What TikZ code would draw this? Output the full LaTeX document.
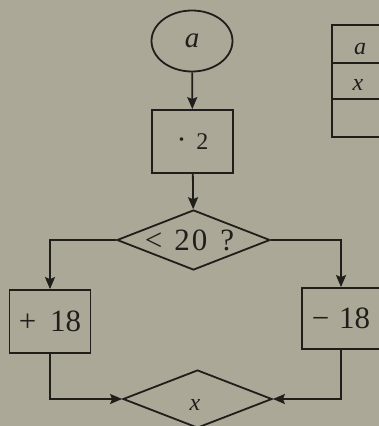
\documentclass[tikz,border=0pt]{standalone}
\usepackage{fontspec}
\setmainfont{Liberation Serif}
\usetikzlibrary{shapes.geometric,arrows.meta}
\definecolor{bg}{RGB}{172,168,152}
\definecolor{ink}{RGB}{32,30,27}
\tikzset{
  every node/.style={text=ink},
  big/.style={font=\fontsize{31}{35}\selectfont},
  blk/.style={draw=ink, line width=1.8pt, rectangle, inner sep=0pt},
  dec/.style={draw=ink, line width=1.8pt, diamond, inner sep=0pt, aspect=2.5},
  term/.style={draw=ink, line width=1.8pt, ellipse, inner sep=0pt},
  flow/.style={draw=ink, line width=1.8pt, -{Stealth[length=12pt,width=10pt,inset=2pt]}},
  tab/.style={draw=ink, line width=1.8pt}
}
\begin{document}
\begin{tikzpicture}[x=1pt,y=-1pt]
\useasboundingbox[fill=bg] (0,0) rectangle (379,426);
\node[term, minimum width=81pt, minimum height=61pt, font=\fontsize{29}{33}\selectfont\itshape] (a) at (192,41) {a};
\node[blk, minimum width=81pt, minimum height=63pt, font=\fontsize{24}{28}\selectfont] (m2) at (192.5,141.5) {{\fontsize{30}{30}\selectfont ·}\hspace{10pt}2};
\node[dec, big, minimum width=153pt, minimum height=60pt] (c) at (193.5,240) {\makebox[0pt]{\hspace{-8pt}<\hspace{12pt}2\hspace{2pt}0\hspace{13pt}?}};
\node[blk, big, minimum width=81pt, minimum height=63pt] (p18) at (50,321.5) {+\hspace{14pt}18};
\node[blk, big, minimum width=78pt, minimum height=61pt] (m18) at (341,318.5) {−\hspace{10pt}18};
\node[dec, minimum width=149pt, minimum height=58pt] (x) at (197.5,399) {};
\node[font=\fontsize{24}{28}\selectfont\itshape] (xt) at (195,405) {x};
\draw[flow] (a) -- (m2);
\draw[flow] (m2) -- (c);
\draw[flow] (c.west) -| (p18.north);
\draw[flow] (c.east) -| (m18.north);
\draw[flow] (p18.south) |- (x.west);
\draw[flow] (m18.south) |- (x.east);
% table
\draw[tab] (432,25) -- (332,25) -- (332,137) -- (432,137);
\draw[tab] (332,63) -- (432,63);
\draw[tab] (332,99) -- (432,99);
\node[font=\fontsize{24}{28}\selectfont\itshape] (ta) at (360,49) {a};
\node[font=\fontsize{24}{28}\selectfont\itshape] (tx) at (358,85) {x};
\end{tikzpicture}
\end{document}
